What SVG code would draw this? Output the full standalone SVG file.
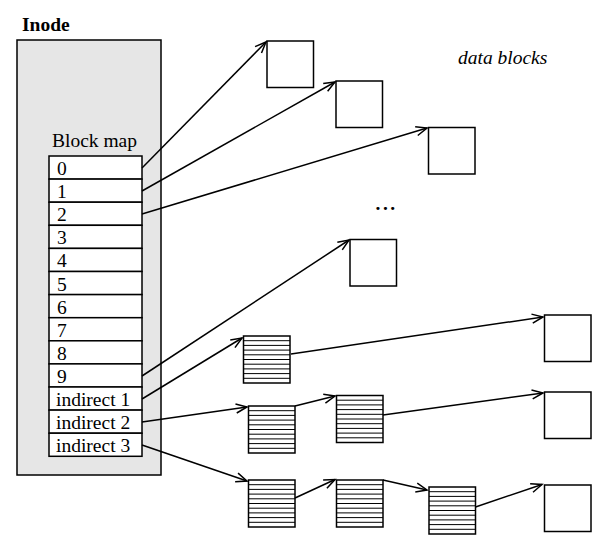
<svg xmlns="http://www.w3.org/2000/svg" xmlns:xlink="http://www.w3.org/1999/xlink" width="615" height="552" viewBox="0 0 615 552">
<style>
text{font-family:"Liberation Serif","Times New Roman",serif;font-size:19.5px;fill:#000}
.b{fill:#fff;stroke:#000;stroke-width:1.5}
.s{fill:none;stroke:#000;stroke-width:1}
.c{fill:none;stroke:#000;stroke-width:1.5;marker-end:url(#ah)}
</style>
<defs>
<marker id="ah" markerUnits="userSpaceOnUse" markerWidth="14" markerHeight="12" viewBox="0 0 14 12" refX="12" refY="6" orient="auto">
<path d="M1,1.5 L12,6 L1,10.5" fill="none" stroke="#000" stroke-width="1.5"/>
</marker>
<g id="stripe">
<rect class="b" x="0" y="0" width="46.5" height="47"/>
<path class="s" d="M0,4.7H46.5M0,9.4H46.5M0,14.1H46.5M0,18.8H46.5M0,23.5H46.5M0,28.2H46.5M0,32.9H46.5M0,37.6H46.5M0,42.3H46.5"/>
</g>
</defs>
<rect width="615" height="552" fill="#fff"/>
<g id="inode">
<text x="22" y="31" font-weight="bold">Inode</text>
<rect x="17" y="40" width="144" height="435" fill="#e6e6e6" stroke="#000" stroke-width="1.5"/>
<text x="52" y="146.5">Block map</text>
</g>
<g id="blockmap">
<rect class="b" x="49" y="156" width="93" height="23.1"/>
<rect class="b" x="49" y="179.1" width="93" height="23.1"/>
<rect class="b" x="49" y="202.2" width="93" height="23.1"/>
<rect class="b" x="49" y="225.3" width="93" height="23.1"/>
<rect class="b" x="49" y="248.4" width="93" height="23.1"/>
<rect class="b" x="49" y="271.5" width="93" height="23.1"/>
<rect class="b" x="49" y="294.6" width="93" height="23.1"/>
<rect class="b" x="49" y="317.7" width="93" height="23.1"/>
<rect class="b" x="49" y="340.8" width="93" height="23.1"/>
<rect class="b" x="49" y="363.9" width="93" height="23.1"/>
<rect class="b" x="49" y="387" width="93" height="23.1"/>
<rect class="b" x="49" y="410.1" width="93" height="23.1"/>
<rect class="b" x="49" y="433.2" width="93" height="23.1"/>
<text x="57" y="175">0</text>
<text x="57" y="198.1">1</text>
<text x="57" y="221.2">2</text>
<text x="57" y="244.3">3</text>
<text x="57" y="267.4">4</text>
<text x="57" y="290.5">5</text>
<text x="57" y="313.6">6</text>
<text x="57" y="336.7">7</text>
<text x="57" y="359.8">8</text>
<text x="57" y="382.9">9</text>
<text x="56" y="406">indirect 1</text>
<text x="56" y="429.1">indirect 2</text>
<text x="56" y="452.2">indirect 3</text>
</g>
<g id="labels">
<text x="458" y="64" font-style="italic">data blocks</text>
<text x="375.5" y="210" letter-spacing="2.5" font-weight="bold">...</text>
</g>
<g id="blockA"><rect class="b" x="267" y="41" width="46.5" height="46.5"/></g>
<g id="blockB"><rect class="b" x="336" y="81" width="46.5" height="46.5"/></g>
<g id="blockC"><rect class="b" x="428.5" y="127.5" width="46.5" height="46.5"/></g>
<g id="blockD"><rect class="b" x="350" y="239.5" width="46.5" height="46.5"/></g>
<g id="blockE"><rect class="b" x="544.5" y="315" width="46.5" height="46.5"/></g>
<g id="blockF"><rect class="b" x="544.5" y="392" width="46.5" height="46.5"/></g>
<g id="blockG"><rect class="b" x="544.5" y="485" width="46.5" height="46.5"/></g>
<g id="ind1"><use xlink:href="#stripe" href="#stripe" x="243.5" y="336"/></g>
<g id="ind2a"><use xlink:href="#stripe" href="#stripe" x="248.5" y="406"/></g>
<g id="ind2b"><use xlink:href="#stripe" href="#stripe" x="336.5" y="395.5"/></g>
<g id="ind3a"><use xlink:href="#stripe" href="#stripe" x="248.5" y="480"/></g>
<g id="ind3b"><use xlink:href="#stripe" href="#stripe" x="336.5" y="480"/></g>
<g id="ind3c"><use xlink:href="#stripe" href="#stripe" x="429" y="487"/></g>
<g id="connectors">
<line class="c" x1="142" y1="168" x2="266" y2="42"/>
<line class="c" x1="142" y1="191" x2="335" y2="82"/>
<line class="c" x1="142" y1="214" x2="427" y2="128"/>
<line class="c" x1="142" y1="376" x2="349" y2="240"/>
<line class="c" x1="142" y1="399" x2="242" y2="338"/>
<line class="c" x1="142" y1="422" x2="247" y2="407"/>
<line class="c" x1="142" y1="445" x2="247" y2="481"/>
<line class="c" x1="291" y1="354" x2="543" y2="317"/>
<line class="c" x1="295" y1="406" x2="335" y2="396"/>
<line class="c" x1="383" y1="415" x2="543" y2="393"/>
<line class="c" x1="295" y1="498" x2="335" y2="479.5"/>
<line class="c" x1="383" y1="480" x2="427" y2="490"/>
<line class="c" x1="475.5" y1="507" x2="542" y2="484.5"/>
</g>
</svg>
